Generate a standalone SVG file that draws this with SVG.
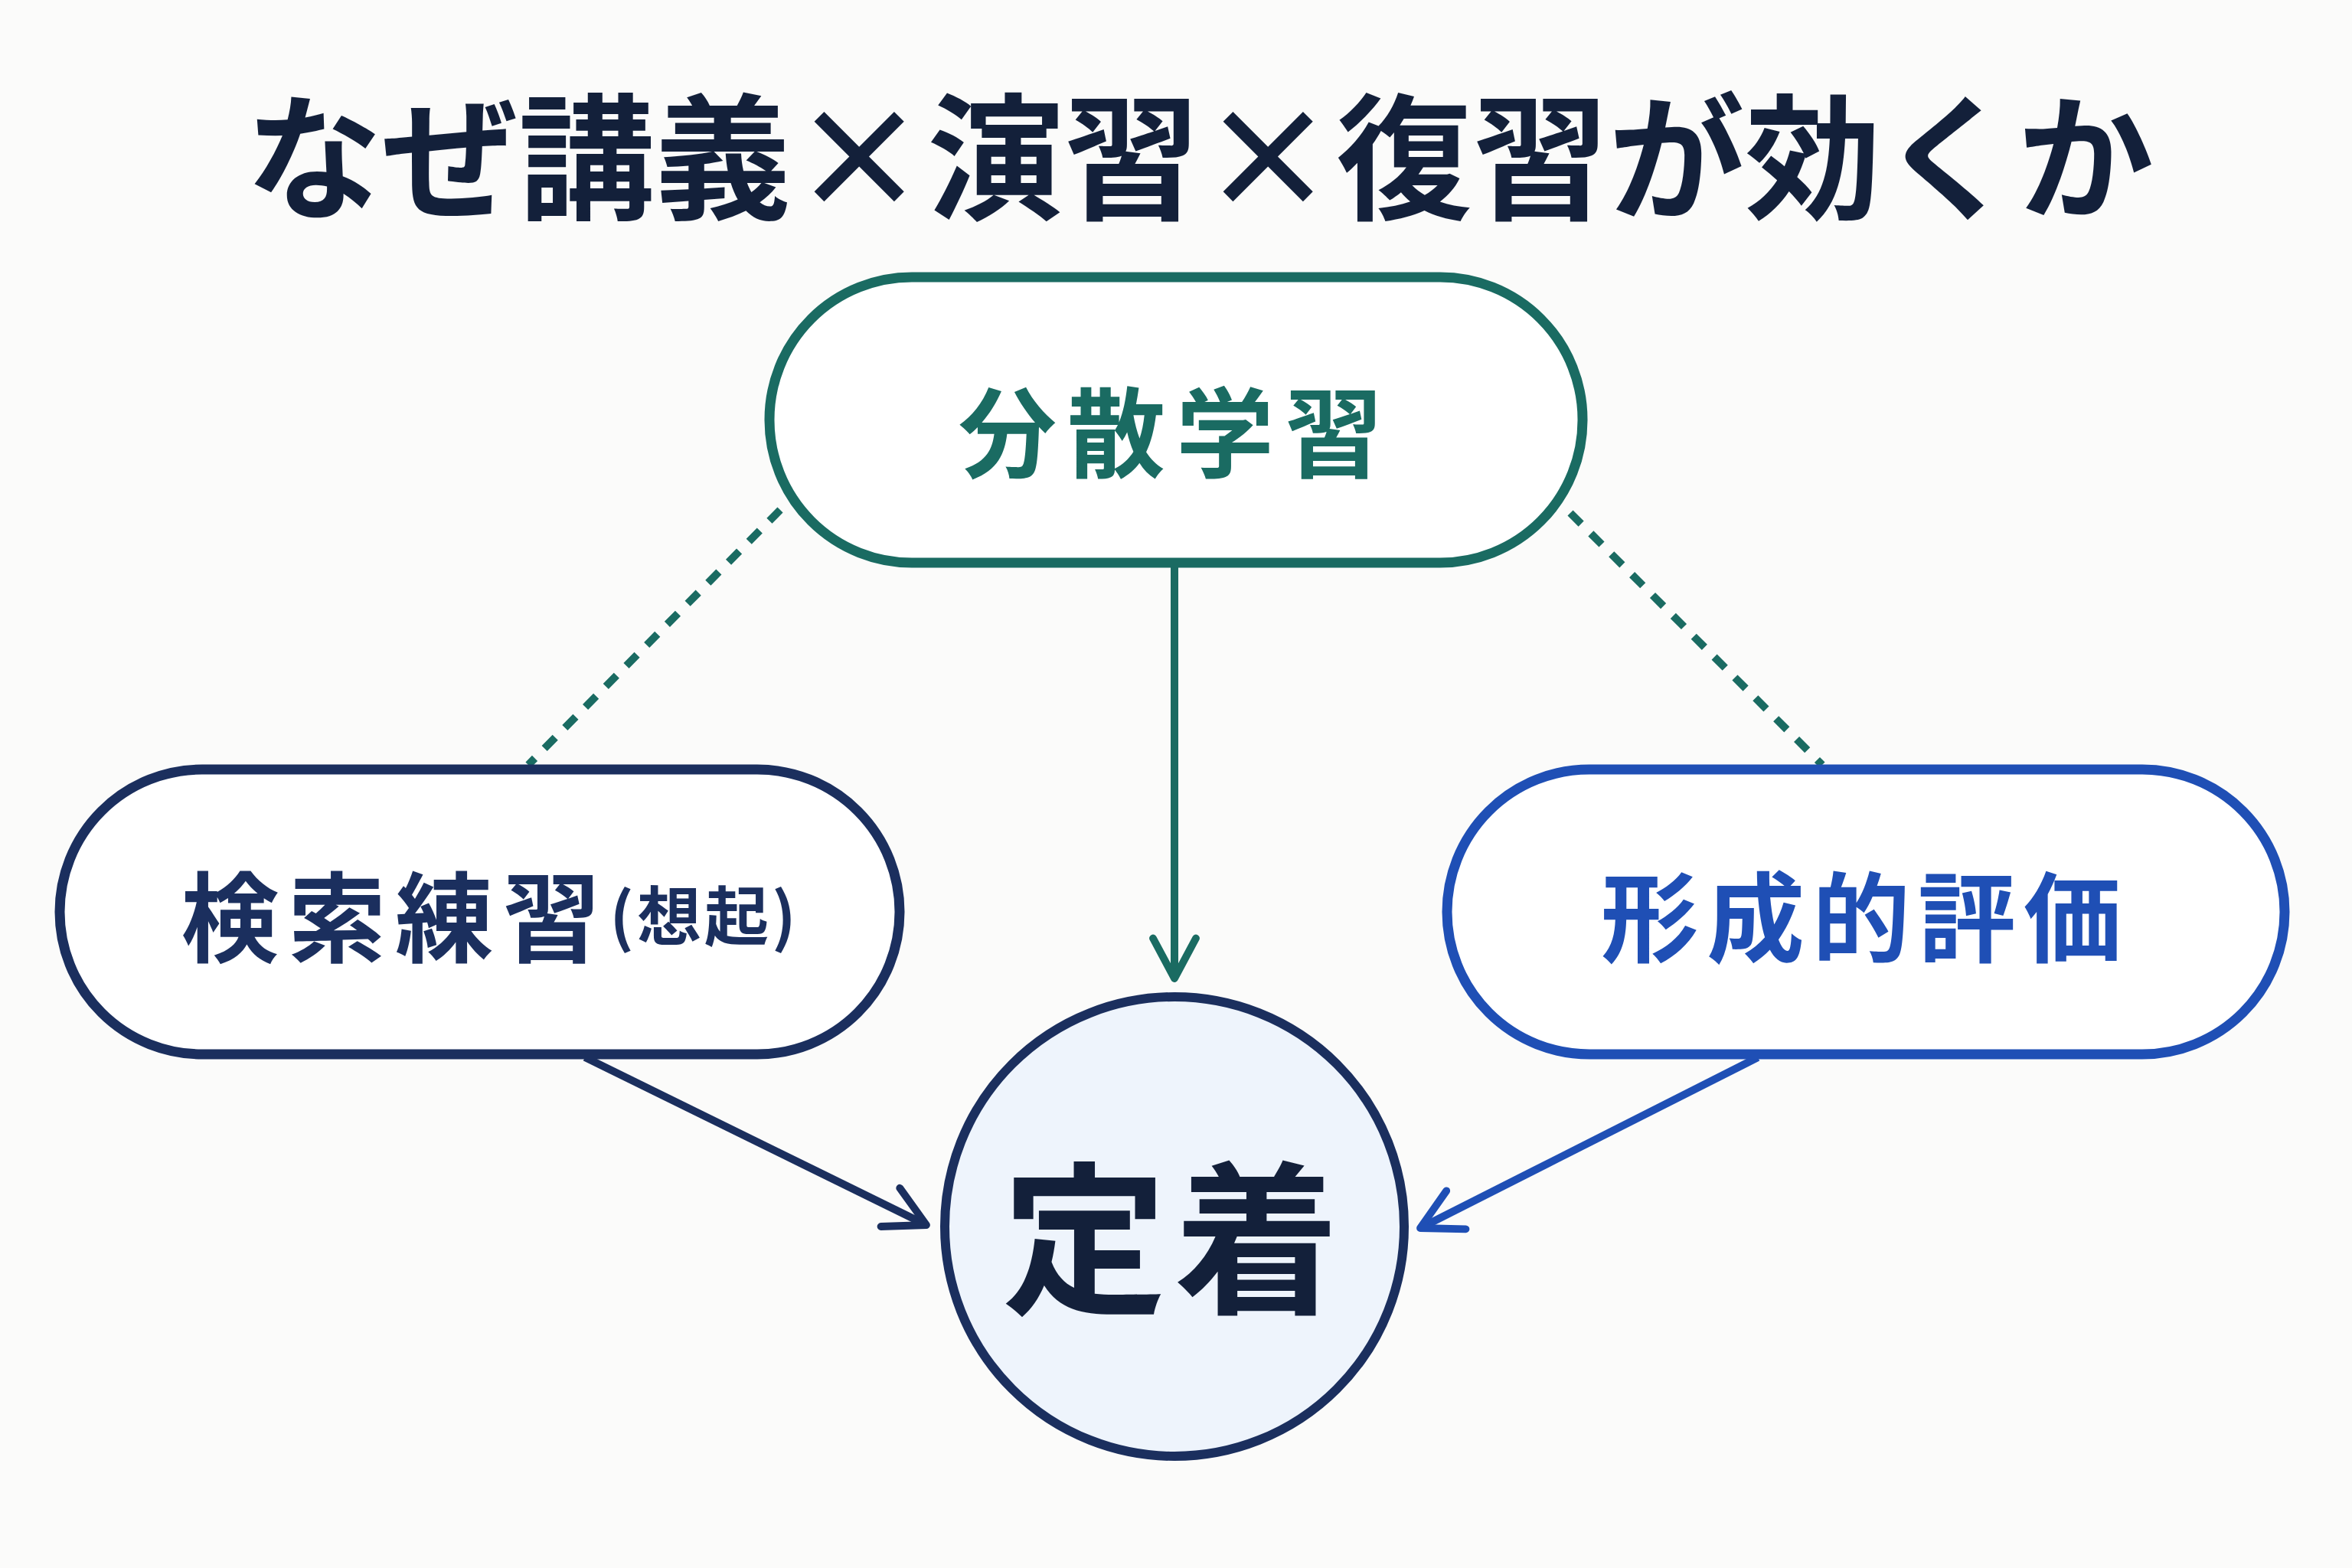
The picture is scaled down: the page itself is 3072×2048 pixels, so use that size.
<svg xmlns="http://www.w3.org/2000/svg" width="3072" height="2048" viewBox="0 0 3072 2048">
<style>
text{font-family:"Noto Sans CJK JP","Noto Sans",sans-serif;font-weight:700;text-anchor:middle;dominant-baseline:central}
.pill{fill:#fff;stroke-width:13}
</style>
<defs>
<marker id="aT" viewBox="0 0 20 20" refX="18" refY="10" markerWidth="7" markerHeight="7" orient="auto" markerUnits="strokeWidth"><path d="M3 2 L18 10 L3 18" fill="none" stroke="#1a6b62" stroke-width="2.8" stroke-linecap="round" stroke-linejoin="round"/></marker>
<marker id="aN" viewBox="0 0 20 20" refX="18" refY="10" markerWidth="7" markerHeight="7" orient="auto" markerUnits="strokeWidth"><path d="M3 2 L18 10 L3 18" fill="none" stroke="#1b2f5e" stroke-width="2.8" stroke-linecap="round" stroke-linejoin="round"/></marker>
<marker id="aB" viewBox="0 0 20 20" refX="18" refY="10" markerWidth="7" markerHeight="7" orient="auto" markerUnits="strokeWidth"><path d="M3 2 L18 10 L3 18" fill="none" stroke="#1f4fb5" stroke-width="2.8" stroke-linecap="round" stroke-linejoin="round"/></marker>
</defs>
<rect width="3072" height="2048" fill="#fbfbfa"/>
<text x="1567" y="195" font-size="178" fill="#13203a" font-weight="900">なぜ講義×演習×復習が効くか</text>
<g id="connectors" fill="none" stroke-width="10">
<line x1="1534" y1="737" x2="1534" y2="1278" stroke="#1a6b62" marker-end="url(#aT)"/>
<line x1="1019" y1="666" x2="690" y2="999" stroke="#1a6b62" stroke-dasharray="20 18"/>
<line x1="2051" y1="670" x2="2380" y2="999" stroke="#1a6b62" stroke-dasharray="20 18"/>
<line x1="764" y1="1381" x2="1210" y2="1600" stroke="#1b2f5e" marker-end="url(#aN)"/>
<line x1="2296" y1="1381" x2="1855" y2="1604" stroke="#1f4fb5" marker-end="url(#aB)"/>
</g>
<g id="bunsan">
<rect class="pill" x="1005" y="362" width="1062" height="373" rx="186" stroke="#1a6b62"/>
<text x="1536" y="558" font-size="128" fill="#1a6b62" letter-spacing="14">分散学習</text>
</g>
<g id="kensaku">
<rect class="pill" x="78" y="1005" width="1097" height="372" rx="186" stroke="#1b2f5e"/>
<text x="640" y="1191" font-size="128" fill="#1b2f5e" letter-spacing="12">検索練習<tspan font-size="84" letter-spacing="4">(想起)</tspan></text>
</g>
<g id="keisei">
<rect class="pill" x="1890" y="1005" width="1094" height="372" rx="186" stroke="#1f4fb5"/>
<text x="2436" y="1191" font-size="128" fill="#1f4fb5" letter-spacing="10">形成的評価</text>
</g>
<g id="teichaku">
<circle cx="1534" cy="1602" r="300" fill="#eef4fc" stroke="#1b2f5e" stroke-width="12"/>
<text x="1534" y="1605" font-size="215" fill="#13203a" font-weight="900" letter-spacing="10">定着</text>
</g>
</svg>
